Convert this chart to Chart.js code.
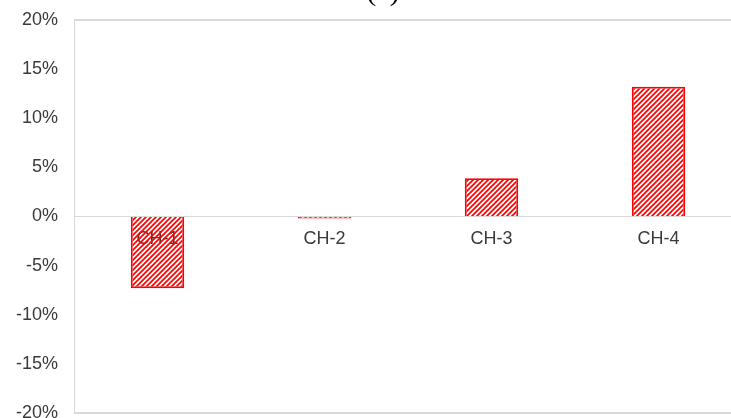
<!DOCTYPE html>
<html>
<head>
<meta charset="utf-8">
<script src="https://cdn.jsdelivr.net/npm/chart.js@4.4.1/dist/chart.umd.min.js"></script>
<style>
  html, body { margin: 0; padding: 0; background: #fff; overflow: hidden; }
  #wrap { position: absolute; left: 0; top: -7px; width: 742px; height: 447px; }
</style>
</head>
<body>
<div id="wrap"><canvas id="barChart-ch"></canvas></div>
<script>
// data
const categories = ["CH-1", "CH-2", "CH-3", "CH-4"];
const changeValues = [-7.3, -0.2, 3.9, 13.2];   // %
const yTicks = { min: -20, max: 20, step: 5 };
const titleText = "(a)";

// red hatch fill
function makeHatch() {
    let s = 5;
    let c = document.createElement("canvas");
    c.width = s; c.height = s;
    let g = c.getContext("2d");
    g.strokeStyle = "#ff0000";
    g.lineWidth = 1.7;
    g.beginPath();
    g.moveTo(-1, s + 1); g.lineTo(s + 1, -1);
    g.moveTo(-1, 1); g.lineTo(1, -1);
    g.moveTo(s - 1, s + 1); g.lineTo(s + 1, s - 1);
    g.stroke();
    return g.createPattern(c, "repeat");
}

// cut-off title at the very top (canvas is shifted up 7px)
const topTitle = {
    id: "topTitle",
    afterDraw(chart) {
        let ctx = chart.ctx;
        ctx.save();
        ctx.font = "30px 'Liberation Serif'";
        ctx.fillStyle = "#000";
        ctx.textAlign = "center";
        ctx.textBaseline = "alphabetic";
        ctx.fillText(titleText, 383, 7);
        ctx.restore();
    }
};

let barCtx_ch = document.getElementById("barChart-ch");
let barConfig_ch = {
    type: 'bar',
    data: {
        labels: categories,
        datasets: [{
            data: changeValues,
            backgroundColor: makeHatch(),
            borderColor: '#ff0000',
            borderWidth: 1.8,
            categoryPercentage: 0.32,
            barPercentage: 1,
        }]
    },
    options: {
        responsive: true,
        maintainAspectRatio: false,
        animation: false,
        layout: { padding: { top: 12, bottom: 0, left: 0, right: 0 } },
        plugins: { legend: { display: false }, tooltip: { enabled: false } },
        scales: {
            x: {
                position: { y: 0 },
                grid: { display: false, drawTicks: false },
                border: { color: '#d9d9d9', width: 1 },
                ticks: {
                    padding: 12,
                    color: '#3a3a3a',
                    font: { family: "'Liberation Sans', Arial", size: 18 },
                },
            },
            y: {
                min: yTicks.min,
                max: yTicks.max,
                afterFit: (scale) => { scale.width = 74; },
                grid: {
                    drawTicks: false,
                    color: (c) => (c.tick && Math.abs(c.tick.value) === 20) ? '#d9d9d9' : 'rgba(0,0,0,0)',
                    lineWidth: (c) => (c.tick && Math.abs(c.tick.value) === 20) ? 2 : 1,
                },
                border: { color: '#d9d9d9', width: 1 },
                ticks: {
                    stepSize: yTicks.step,
                    padding: 16,
                    color: '#3a3a3a',
                    font: { family: "'Liberation Sans', Arial", size: 18 },
                    callback: (v) => v + '%',
                },
            },
        },
    },
    plugins: [topTitle],
};
let barChart_ch = new Chart(barCtx_ch, barConfig_ch);
</script>
</body>
</html>
